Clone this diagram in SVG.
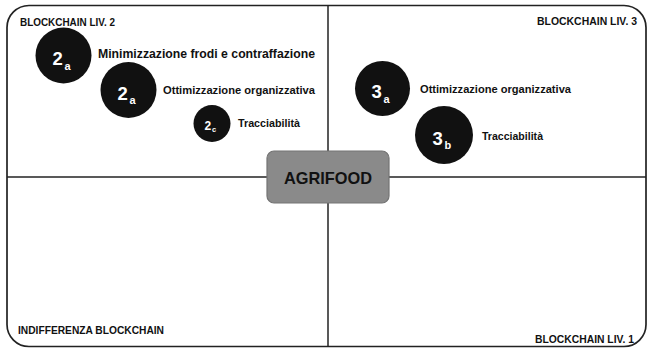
<svg xmlns="http://www.w3.org/2000/svg" width="647" height="348" viewBox="0 0 647 348">
  <style>
    .frame { fill: #ffffff; stroke: #222222; stroke-width: 1.7; }
    .axis { stroke: #222222; stroke-width: 1.5; fill: none; }
    .bubble { fill: #111111; }
    .num { font-family: "Liberation Sans", Arial, sans-serif; font-weight: bold; fill: #ffffff; }
    .lbl { font-family: "Liberation Sans", Arial, sans-serif; font-weight: bold; fill: #111111; }
    .corner { font-family: "Liberation Sans", Arial, sans-serif; font-weight: bold; fill: #111111; font-size: 10px; }
  </style>

  <!-- outer frame -->
  <rect class="frame" x="7" y="5.5" width="639" height="341" rx="22" ry="22"/>

  <!-- quadrant axes -->
  <g id="connectors">
    <line class="axis" x1="328" y1="5.5" x2="328" y2="346.5"/>
    <line class="axis" x1="7" y1="177" x2="646" y2="177"/>
  </g>

  <!-- quadrant titles -->
  <g id="q-liv2"><text class="corner" x="20" y="25.5" textLength="95" lengthAdjust="spacingAndGlyphs">BLOCKCHAIN LIV. 2</text></g>
  <g id="q-liv3"><text class="corner" x="537" y="24.5" textLength="100" lengthAdjust="spacingAndGlyphs">BLOCKCHAIN LIV. 3</text></g>
  <g id="q-indiff"><text class="corner" x="18" y="333.5" textLength="146" lengthAdjust="spacingAndGlyphs">INDIFFERENZA BLOCKCHAIN</text></g>
  <g id="q-liv1"><text class="corner" x="535" y="342.5" textLength="99" lengthAdjust="spacingAndGlyphs">BLOCKCHAIN LIV. 1</text></g>

  <!-- level 2 items -->
  <g id="n-2a-frodi">
    <circle class="bubble" cx="63.5" cy="55.5" r="28"/>
    <text class="num" x="52.5" y="65" font-size="18.5">2</text>
    <text class="num" x="64.5" y="69.5" font-size="11">a</text>
    <text class="lbl" x="98" y="57.5" font-size="12.5" textLength="217" lengthAdjust="spacingAndGlyphs">Minimizzazione frodi e contraffazione</text>
  </g>
  <g id="n-2a-org">
    <circle class="bubble" cx="128.5" cy="90" r="28"/>
    <text class="num" x="117.5" y="99.5" font-size="18.5">2</text>
    <text class="num" x="129.5" y="104" font-size="11">a</text>
    <text class="lbl" x="163" y="94" font-size="10.5" textLength="152" lengthAdjust="spacingAndGlyphs">Ottimizzazione organizzativa</text>
  </g>
  <g id="n-2c-trac">
    <circle class="bubble" cx="212" cy="123.5" r="18.5"/>
    <text class="num" x="204.5" y="129.5" font-size="12">2</text>
    <text class="num" x="212" y="132" font-size="7.5">c</text>
    <text class="lbl" x="238" y="127" font-size="10.5" textLength="62" lengthAdjust="spacingAndGlyphs">Tracciabilità</text>
  </g>

  <!-- level 3 items -->
  <g id="n-3a-org">
    <circle class="bubble" cx="382.5" cy="88.5" r="27.5"/>
    <text class="num" x="371.5" y="98" font-size="18.5">3</text>
    <text class="num" x="383.5" y="102.5" font-size="11">a</text>
    <text class="lbl" x="420" y="93" font-size="10.5" textLength="151" lengthAdjust="spacingAndGlyphs">Ottimizzazione organizzativa</text>
  </g>
  <g id="n-3b-trac">
    <circle class="bubble" cx="444" cy="135" r="29"/>
    <text class="num" x="432.5" y="144.5" font-size="18.5">3</text>
    <text class="num" x="444.5" y="149" font-size="11">b</text>
    <text class="lbl" x="482" y="139.5" font-size="10.5" textLength="61" lengthAdjust="spacingAndGlyphs">Tracciabilità</text>
  </g>

  <!-- centre box -->
  <g id="n-agrifood">
    <rect x="267" y="151" width="122" height="52" rx="7" ry="7" fill="#8a8a8a" stroke="#747474" stroke-width="1.2"/>
    <text class="lbl" x="328" y="184" font-size="17" text-anchor="middle" textLength="88" lengthAdjust="spacingAndGlyphs">AGRIFOOD</text>
  </g>
</svg>
